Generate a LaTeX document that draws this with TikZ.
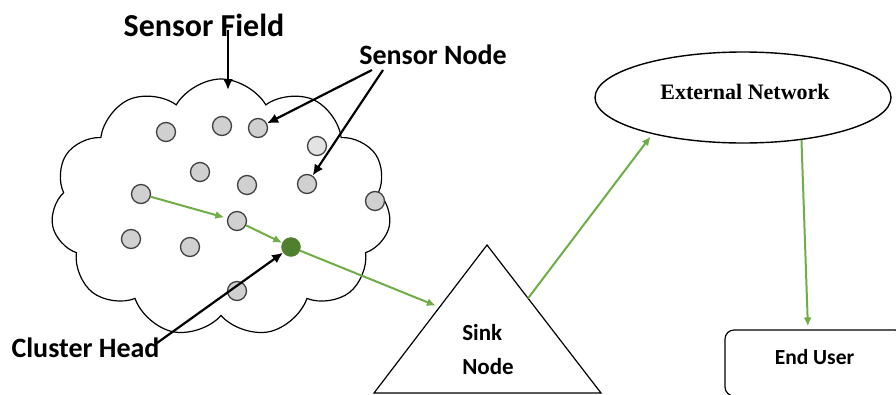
\documentclass[tikz,border=0pt]{standalone}
\usepackage{fontspec}
\setmainfont{Carlito}
\newfontfamily\netfont{Liberation Serif}
\usetikzlibrary{shapes.symbols,shapes.geometric,arrows.meta,calc}

\definecolor{flowgreen}{RGB}{112,173,71}
\definecolor{headgreen}{RGB}{78,128,46}
\definecolor{sensorgray}{RGB}{208,208,208}
\definecolor{rimgray}{RGB}{64,64,64}

\tikzset{
  sensor/.style={circle,draw=rimgray,fill=sensorgray,line width=1.3pt,minimum size=19pt,inner sep=0pt},
  head/.style={circle,draw=headgreen,fill=headgreen,minimum size=19pt,inner sep=0pt},
  pointer/.style={line width=2.2pt,-{Latex[length=11pt,width=10pt]}},
  flow/.style={draw=flowgreen,line width=2pt,-{Latex[length=9pt,width=8pt]}},
  bigtext/.style={font=\bfseries\fontsize{28}{30}\selectfont,inner sep=0pt,anchor=base},
  midtext/.style={font=\bfseries\fontsize{23}{34}\selectfont,inner sep=0pt}
}

\begin{document}
\begin{tikzpicture}[scale=1.000000,x=1pt,y=-1pt]
\useasboundingbox (0,0) rectangle (896,394);
\fill[white] (0,0) rectangle (896,394);
% Drawing the sensor field
\node[cloud,draw,line width=1.2pt,cloud puffs=11,cloud puff arc=120,cloud ignores aspect,
      minimum width=340pt,minimum height=258pt,inner sep=0pt] (field) at (221,208) {};
% Sensors
\node[sensor] (s1) at (166,132) {};
\node[sensor] (s2) at (222,126) {};
\node[sensor] (s3) at (258,128) {};
\node[sensor,fill=sensorgray!60] (s4) at (317,146) {};
\node[sensor] (s5) at (200,172) {};
\node[sensor] (s6) at (247,185) {};
\node[sensor] (s7) at (307,184) {};
\node[sensor] (s8) at (375,201) {};
\node[sensor] (s9) at (141,194) {};
\node[sensor] (s10) at (237,221) {};
\node[sensor] (s11) at (131,239) {};
\node[sensor] (s12) at (190,247) {};
\node[sensor] (s13) at (237,291) {};
\node[head] (ch) at (291,247) {};
% Sink, network and user
\coordinate (apex) at (487,245);
\coordinate (baseL) at (374,393);
\coordinate (baseR) at (601,393);
\draw[line width=1.2pt] (baseL) -- (apex) -- (baseR) -- cycle;
\node[midtext,align=left] (sink) at (488,350) {Sink\\Node};
\node[ellipse,draw,line width=1.4pt,minimum width=296pt,minimum height=91pt,inner sep=0pt] (net) at (743,97.5) {};
\node[font=\netfont\bfseries\fontsize{22}{24}\selectfont,inner sep=0pt,anchor=base] (nettext) at (745,99) {External Network};
\node[draw,line width=1.2pt,rounded corners=9pt,minimum width=179pt,minimum height=66pt] (user) at (814.5,363) {};
\node[midtext,font=\bfseries\fontsize{21.5}{24}\selectfont,anchor=base] (usertext) at (814.5,364) {End User};
% Labels
\node[bigtext,font=\bfseries\fontsize{32}{34}\selectfont] (sfl) at (204,36) {Sensor Field};
\node[bigtext] (snl) at (433,64) {Sensor Node};
\node[bigtext] (chl) at (85.5,357) {Cluster Head};
% Black pointers
\coordinate (sfa) at (228,30);
\coordinate (sftip) at (228,90);
\coordinate (sna) at (372,70);
\coordinate (snb) at (383,70);
\coordinate (cha) at (157,343);
\draw[pointer] (sfa) -- (sftip);
\draw[pointer] (sna) -- (s3);
\draw[pointer] (snb) -- (s7);
\draw[pointer] (cha) -- (ch);
% Green data flow
\draw[flow,shorten >=3pt] (s9) -- (s10);
\draw[flow] (s10) -- (ch);
\draw[flow,shorten >=4pt] (ch) -- ($(apex)!0.42!(baseL)$);
\draw[flow,shorten >=3pt] ($(apex)!0.36!(baseR)$) -- (net.-158);
\draw[flow,shorten >=3pt] (net.-36) -- ([xshift=-6.5pt]user.north);
\end{tikzpicture}
\end{document}
